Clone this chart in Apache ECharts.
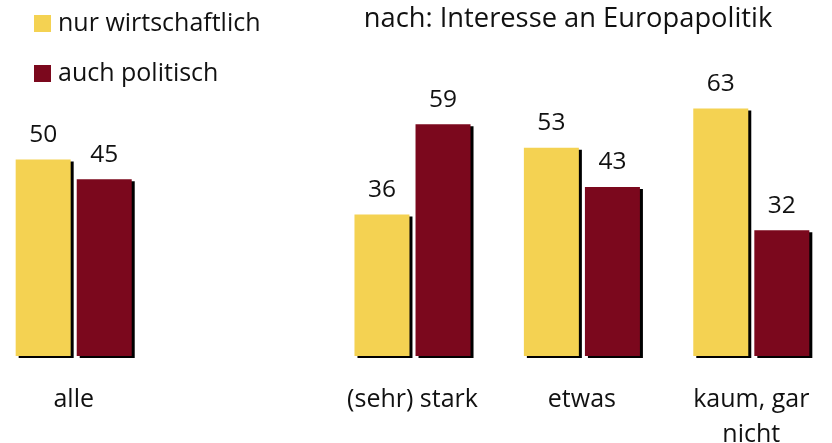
<!DOCTYPE html>
<html><head><meta charset="utf-8">
<script src="https://cdn.jsdelivr.net/npm/echarts@6/dist/echarts.min.js"></script>
<style>html,body{margin:0;padding:0;background:#fff}#c{width:832px;height:443px}</style>
</head><body><div id="c"></div>
<script>
const categories = ['alle', '', '(sehr) stark', 'etwas', 'kaum, gar\nnicht'];
const seriesNames = ['nur wirtschaftlich', 'auch politisch'];
const nurWirtschaftlich = [50, null, 36, 53, 63];
const auchPolitisch = [45, null, 59, 43, 32];
const titleText = 'nach: Interesse an Europapolitik';

const FONT = 'Open Sans';
const colors = ['#F4D252', '#7B081D'];
const chart = echarts.init(document.getElementById('c'));
const barStyle = (c) => ({color: c, shadowColor: '#000', shadowBlur: 0, shadowOffsetX: 3, shadowOffsetY: 2});
const lbl = {show: true, position: 'top', distance: 12, color: '#111', fontSize: 24.5, fontFamily: FONT};
chart.setOption({
  animation: false,
  title: {text: titleText, left: 563, top: 1, textAlign: 'center',
    textStyle: {fontFamily: FONT, fontSize: 27.3, fontWeight: 'normal', color: '#111'}},
  legend: [
    {data: [seriesNames[0]], left: 29, top: 6, itemWidth: 17, itemHeight: 17, icon: 'rect', padding: 5,
     textStyle: {fontFamily: FONT, fontSize: 25, color: '#111', padding: [0,0,0,2]}},
    {data: [seriesNames[1]], left: 29, top: 56, itemWidth: 17, itemHeight: 17, icon: 'rect', padding: 5,
     textStyle: {fontFamily: FONT, fontSize: 25, color: '#111', padding: [0,0,0,2]}}
  ],
  grid: {left: -11, width: 847, top: 41.6, height: 314.4, containLabel: false, outerBoundsMode: 'none'},
  xAxis: {type: 'category', data: categories,
    axisLine: {show: false}, axisTick: {show: false},
    axisLabel: {interval: 0, margin: 26, color: '#111', fontSize: 25, fontFamily: FONT, lineHeight: 35}},
  yAxis: {type: 'value', min: 0, max: 80, show: false, splitLine: {show: false}},
  series: [
    {name: seriesNames[0], type: 'bar', data: nurWirtschaftlich, barWidth: 55, barGap: '11%',
     itemStyle: barStyle(colors[0]), label: lbl},
    {name: seriesNames[1], type: 'bar', data: auchPolitisch, barWidth: 55, barGap: '11%',
     itemStyle: barStyle(colors[1]), label: lbl}
  ]
});
</script></body></html>
